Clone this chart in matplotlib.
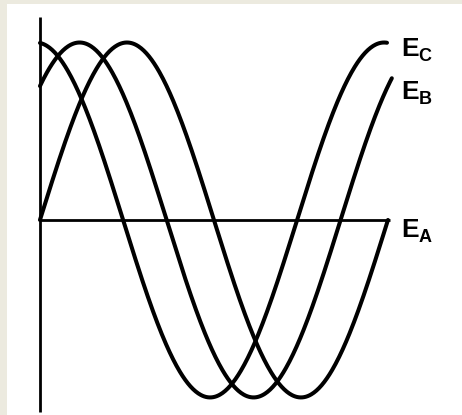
import numpy as np
import matplotlib
matplotlib.use("Agg")
import matplotlib.pyplot as plt


# ------------- datos -------------#
fases = ["A", "B", "C"]            # subindice de cada tension
adelanto = [0, 49, 94]             # grados de adelanto respecto a E_A
fin = [360, 364, 359]              # grado donde termina cada curva
etiqueta_y = [-0.096, 0.682, 0.924]  # altura de la etiqueta (base del texto)


fig = plt.figure(figsize=(4.62, 4.15), dpi=100)
fig.patch.set_facecolor("#ECEADF")
ax = fig.add_axes([7/462, 0, 1 - 7/462, 1 - 4/415])
ax.set_facecolor("white")
ax.set_xlim(-34.1, 436.6)
ax.set_ylim(-1.099, 1.217)
ax.set_xticks([])
ax.set_yticks([])
for s in ax.spines.values():
    s.set_visible(False)

# ejes
ax.plot([0, 0], [1.144, -1.082], color="black", lw=2.0, solid_capstyle="butt")
ax.plot([0, 362], [0, 0], color="black", lw=2.0, solid_capstyle="butt")

for f, a, t_fin, ye in zip(fases, adelanto, fin, etiqueta_y):
    t = np.linspace(0, t_fin, 400)
    ax.plot(t, np.sin(np.radians(t + a)), color="black", lw=2.9,
            solid_capstyle="round")
    ax.text(373.4, ye, "E", fontsize=19, fontweight="bold",
            family="Liberation Sans", va="baseline", ha="left")
    ax.annotate(f, (373.4, ye), xytext=(12.8, -3.5), textcoords="offset points",
                fontsize=13, fontweight="bold", family="Liberation Sans",
                va="baseline", ha="left")

plt.savefig("out.png", dpi=100)
